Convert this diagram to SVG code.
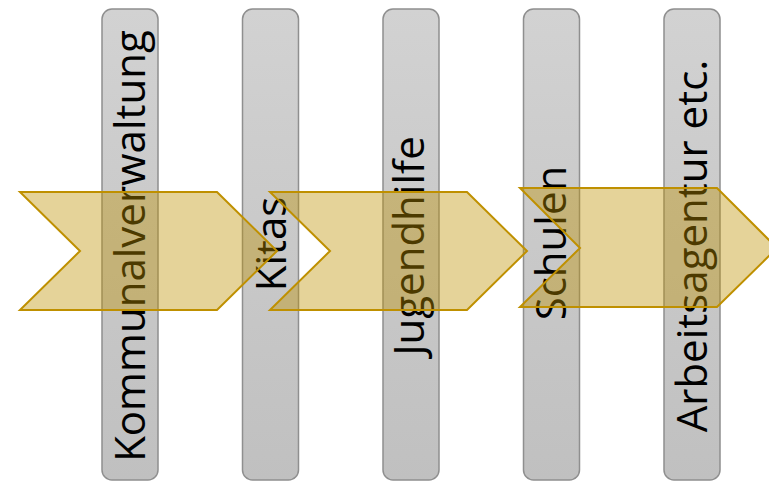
<svg xmlns="http://www.w3.org/2000/svg" width="769" height="482" viewBox="0 0 769 482">
  <defs>
    <linearGradient id="barFill" x1="0" y1="0" x2="0" y2="1">
      <stop offset="0" stop-color="#d2d2d2"/>
      <stop offset="1" stop-color="#c0c0c0"/>
    </linearGradient>
    <style>
      .bar { fill: url(#barFill); stroke: #8f8f8f; stroke-width: 1.5; }
      .lbl { font-family: "Open Sans", "Noto Sans", "Liberation Sans", sans-serif; font-size: 42px; fill: #000; text-anchor: middle; }
      .chev { fill: #bf9000; fill-opacity: 0.4; stroke: #bf9000; stroke-width: 2; stroke-linejoin: miter; }
    </style>
  </defs>
  <rect width="769" height="482" fill="#ffffff"/>

  <!-- vertical stakeholder columns -->
  <g id="col-kommunalverwaltung">
    <rect class="bar" x="102" y="9" width="56" height="471" rx="10"/>
    <text class="lbl" transform="translate(145,246) rotate(-90)">Kommunalverwaltung</text>
  </g>
  <g id="col-kitas">
    <rect class="bar" x="242.5" y="9" width="56" height="471" rx="10"/>
    <text class="lbl" transform="translate(286,244) rotate(-90)">Kitas</text>
  </g>
  <g id="col-jugendhilfe">
    <rect class="bar" x="383" y="9" width="56" height="471" rx="10"/>
    <text class="lbl" transform="translate(424,246) rotate(-90)">Jugendhilfe</text>
  </g>
  <g id="col-schulen">
    <rect class="bar" x="523.5" y="9" width="56" height="471" rx="10"/>
    <text class="lbl" transform="translate(566,243) rotate(-90)">Schulen</text>
  </g>
  <g id="col-arbeitsagentur">
    <rect class="bar" x="664" y="9" width="56" height="471" rx="10"/>
    <text class="lbl" transform="translate(707,246) rotate(-90)">Arbeitsagentur etc.</text>
  </g>

  <!-- process chevrons laid over the columns -->
  <g id="chevrons">
    <polygon id="chevron-1" class="chev" points="20,192 217,192 277,251 217,310 20,310 80,251"/>
    <polygon id="chevron-2" class="chev" points="270,192 467,192 527,251 467,310 270,310 330,251"/>
    <polygon id="chevron-3" class="chev" points="520,188 717,188 777,248 717,307 520,307 580,248"/>
  </g>
</svg>
